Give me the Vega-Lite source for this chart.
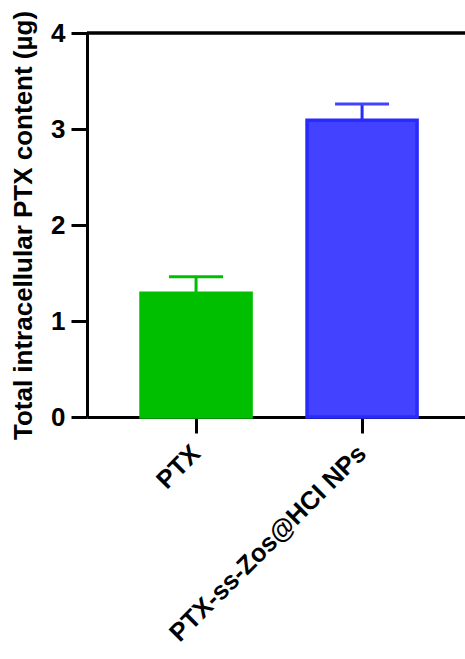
{
  "$schema": "https://vega.github.io/schema/vega-lite/v6.json",
  "autosize": "none",
  "width": 378,
  "height": 384,
  "padding": {"left": 87, "top": 33, "right": 0, "bottom": 242},
  "background": "white",
  "config": {
    "view": {"stroke": null},
    "font": "Liberation Sans",
    "axis": {"domainColor": "black", "tickColor": "black", "labelColor": "black", "titleColor": "black", "domainWidth": 3, "tickWidth": 3, "grid": false, "labelFont": "Liberation Sans", "titleFont": "Liberation Sans", "labelFontWeight": "bold", "titleFontWeight": "bold"},
    "axisX": {"labelAngle": -45, "labelAlign": "right", "labelBaseline": "middle", "labelFontSize": 25.5, "labelPadding": 16, "tickSize": 16, "labelLimit": 500},
    "axisY": {"titleFontSize": 26, "titleAngle": -90, "titleX": -64, "titleY": 192, "titleAlign": "center", "titleBaseline": "middle", "labelFontSize": 26, "labelPadding": 6}
  },
  "data": {"values": [
    {"group": "PTX", "mean": 1.29, "upper": 1.46},
    {"group": "PTX-ss-Zos@HCI NPs", "mean": 3.09, "upper": 3.26}
  ]},
  "encoding": {
    "x": {"field": "group", "type": "nominal", "sort": null,
      "scale": {"paddingInner": 0.337, "paddingOuter": 0.307, "align": 0.53},
      "axis": {"title": null}}
  },
  "layer": [
    {
      "mark": {"type": "bar", "strokeWidth": 3.5},
      "encoding": {
        "y": {"field": "mean", "type": "quantitative",
          "scale": {"domain": [0, 4], "nice": false},
          "axis": {"title": "Total intracellular PTX content (µg)",
            "values": [0, 0.5, 1, 1.5, 2, 2.5, 3, 3.5, 4],
            "format": "d",
            "labelExpr": "datum.value % 1 === 0 ? datum.label : ''",
            "tickSize": {"condition": {"test": "datum.value % 1 !== 0", "value": 9}, "value": 16}}},
        "color": {"field": "group", "type": "nominal", "legend": null,
          "scale": {"domain": ["PTX", "PTX-ss-Zos@HCI NPs"], "range": ["#00bf00", "#4242ff"]}},
        "stroke": {"field": "group", "type": "nominal", "legend": null,
          "scale": {"domain": ["PTX", "PTX-ss-Zos@HCI NPs"], "range": ["#00bf00", "#2a2aff"]}}
      }
    },
    {
      "mark": {"type": "rule", "strokeWidth": 3, "opacity": 1},
      "encoding": {
        "y": {"field": "mean", "type": "quantitative"},
        "y2": {"field": "upper"},
        "stroke": {"field": "group", "type": "nominal", "legend": null}
      }
    },
    {
      "mark": {"type": "tick", "size": 54, "thickness": 3, "opacity": 1},
      "encoding": {
        "y": {"field": "upper", "type": "quantitative"},
        "color": {"field": "group", "type": "nominal", "legend": null}
      }
    },
    {
      "mark": {"type": "rule", "strokeWidth": 3, "color": "black"},
      "encoding": {"x": null, "y": {"datum": 4, "type": "quantitative"}}
    }
  ]
}
